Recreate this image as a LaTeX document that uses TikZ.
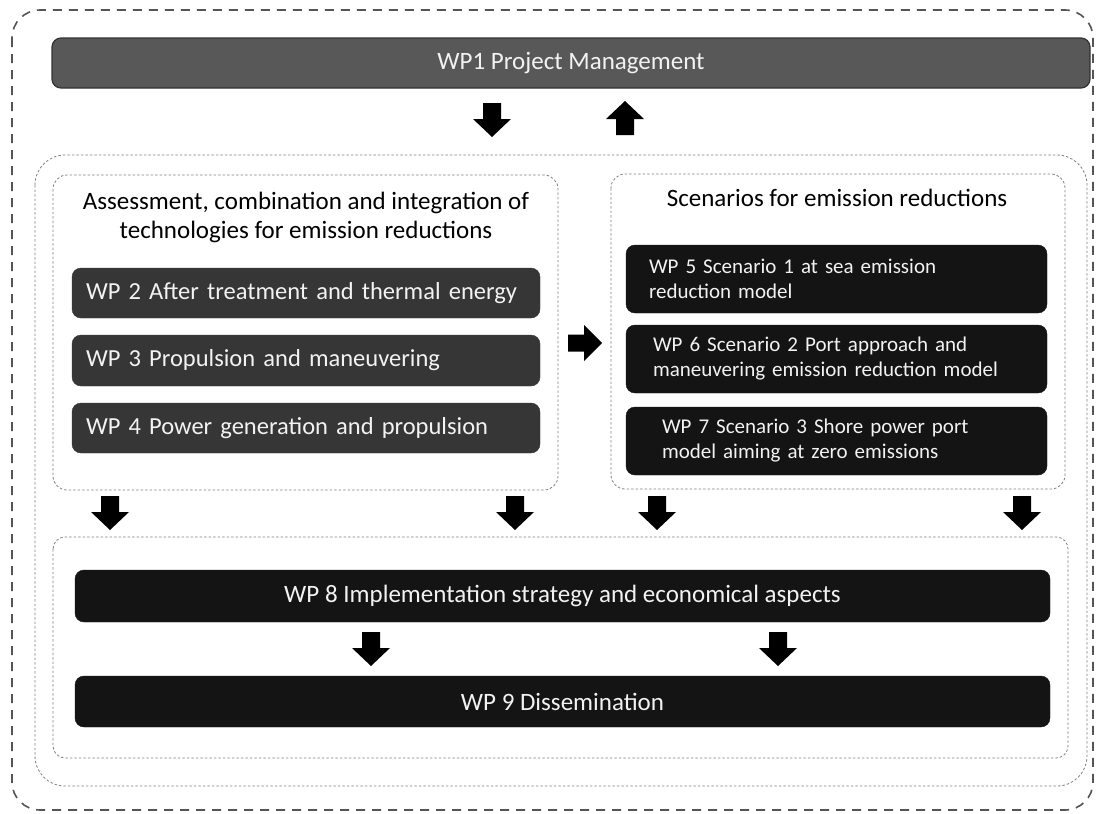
\documentclass[tikz,border=0pt]{standalone}
\usepackage{fontspec}
\setmainfont{Carlito}
\definecolor{gmid}{HTML}{585858}
\definecolor{gmidline}{HTML}{333333}
\definecolor{gdark}{HTML}{363636}
\definecolor{gblack}{HTML}{141414}
\definecolor{txtw}{HTML}{F2F2F2}
\definecolor{dashc}{HTML}{555555}
\tikzset{
  bar/.style={rounded corners=9pt, text=txtw, inner xsep=14pt, inner ysep=0pt,
    font=\fontsize{21}{25}\selectfont},
  barmid/.style={bar, fill=gmid, draw=gmidline, line width=1.2pt, font=\fontsize{25}{30}\selectfont},
  bardark/.style={bar, fill=gdark, draw=gdark, font=\fontsize{24.5}{30}\selectfont},
  barblack/.style={bar, fill=gblack, draw=gblack},
  barwide/.style={barblack, font=\fontsize{25}{30}\selectfont},
  outerbox/.style={draw=dashc, line width=1.6pt, dash pattern=on 9pt off 7pt, rounded corners=28pt},
  dotbox/.style={draw=gray, line width=0.8pt, dash pattern=on 2.5pt off 2pt},
  titletxt/.style={font=\fontsize{25}{29}\selectfont, text=black, align=center},
  arrdown/.pic={\fill[black] (-9,-17) -- (-9,-1) -- (-19,-1) -- (0,17) -- (19,-1) -- (9,-1) -- (9,-17) -- cycle;},
  arrup/.pic={\fill[black] (-9,17) -- (-9,1) -- (-19,1) -- (0,-17) -- (19,1) -- (9,1) -- (9,17) -- cycle;},
  arrright/.pic={\fill[black] (-17,-8.5) -- (-1,-8.5) -- (-1,-18) -- (17,0) -- (-1,18) -- (-1,8.5) -- (-17,8.5) -- cycle;}
}
\begin{document}
\begin{tikzpicture}[x=1pt,y=-1pt]
\useasboundingbox (0,0) rectangle (1098,814);
\fill[white] (0,0) rectangle (1098,814);
% containers
\draw[outerbox] (12,10) rectangle (1093,810);
\draw[dotbox, rounded corners=30pt] (35,155) rectangle (1087,786);
\draw[dotbox, rounded corners=14pt] (53,175) rectangle (558,490);
\draw[dotbox, rounded corners=14pt] (611,174) rectangle (1065,489);
\draw[dotbox, rounded corners=12pt] (53,537) rectangle (1068,758);
% WP1
\node[barmid, minimum width=1038pt, minimum height=50pt] (wp1) at (571,63) {WP1 Project Management};
% titles
\node[titletxt] (tl) at (306,217) {Assessment, combination and integration of\\technologies for emission reductions};
\node[titletxt] (tr) at (837,198) {Scenarios for emission reductions};
% left bars
\node[bardark, minimum width=468pt, minimum height=50pt, text width=440pt, align=left] (wp2) at (306,293) {WP 2 After treatment and thermal energy};
\node[bardark, minimum width=468pt, minimum height=51pt, text width=440pt, align=left] (wp3) at (306,360.5) {WP 3 Propulsion and maneuvering};
\node[bardark, minimum width=468pt, minimum height=50pt, text width=440pt, align=left] (wp4) at (306,428) {WP 4 Power generation and propulsion};
% right bars
\node[barblack, minimum width=421pt, minimum height=68pt, text width=375pt, align=left, inner xsep=23pt] (wp5) at (836.5,279) {WP 5 Scenario 1 at sea emission\\reduction model};
\node[barblack, minimum width=421pt, minimum height=68pt, text width=375pt, align=left, inner xsep=23pt] (wp6) at (836.5,359) {\hspace*{4pt}WP 6 Scenario 2 Port approach and\\\hspace*{4pt}maneuvering emission reduction model};
\node[barblack, minimum width=421pt, minimum height=68pt, text width=375pt, align=left, inner xsep=23pt] (wp7) at (836.5,441) {\hspace*{13pt}WP 7 Scenario 3 Shore power port\\\hspace*{13pt}model aiming at zero emissions};
% bottom bars
\node[barwide, minimum width=975pt, minimum height=52pt] (wp8) at (562.5,596) {WP 8 Implementation strategy and economical aspects};
\node[barwide, minimum width=975pt, minimum height=51pt] (wp9) at (562.5,701.5) {WP 9 Dissemination};
% arrows
\pic at (492,120) {arrdown};
\pic at (625,118) {arrup};
\pic at (585,343) {arrright};
\pic at (110,513) {arrdown};
\pic at (515,513) {arrdown};
\pic at (657,513) {arrdown};
\pic at (1022,513) {arrdown};
\pic at (371,649) {arrdown};
\pic at (778,649) {arrdown};
\end{tikzpicture}
\end{document}
